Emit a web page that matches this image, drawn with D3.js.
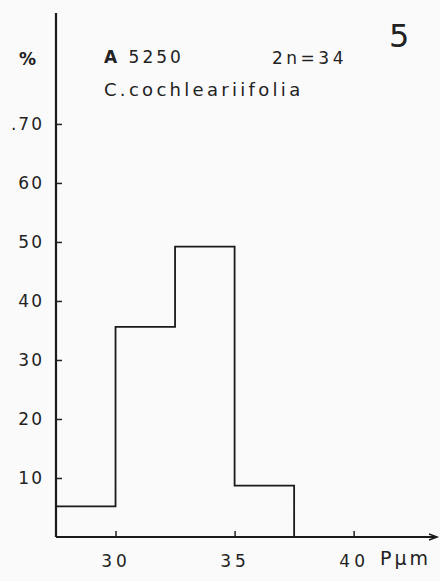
<!DOCTYPE html>
<html>
<head>
<meta charset="utf-8">
<script src="https://cdn.jsdelivr.net/npm/d3@7"></script>
<style>
  body { margin: 0; background: #fafafa; }
  svg { display: block; }
  text { font-family: "DejaVu Sans", sans-serif; fill: #222; }
</style>
</head>
<body>
<svg id="chart" width="440" height="581"></svg>
<script>
// bin grenzen (P um) en percentages
const binStart = [27.5, 30, 32.5, 35];
const binEnd = [30, 32.5, 35, 37.5];
const percent = [5.2, 35.6, 49.2, 8.7];
const yTicks = [10, 20, 30, 40, 50, 60, 70];
const xTicks = [30, 35, 40];

const svg = d3.select("#chart");

const x = d3.scaleLinear().domain([27.5, 43.5]).range([56, 437]);
const y = d3.scaleLinear().domain([0, 88.8]).range([537, 13]);

// y-as
const yAxis = svg
  .append("g")
  .attr("transform", "translate(" + x(27.5) + ",0)")
  .call(
    d3.axisLeft(y)
      .tickValues(yTicks)
      .tickSizeInner(-6)
      .tickSizeOuter(0)
      .tickPadding(12)
      .tickFormat((d) => (d === 70 ? ".70" : d))
  );
yAxis.select(".domain").remove();
yAxis.selectAll(".tick line").attr("stroke", "#222").attr("stroke-width", 1.5);
yAxis.selectAll(".tick text")
  .attr("font-size", 17)
  .attr("letter-spacing", 2)
  .style("font-family", "DejaVu Sans");

svg
  .append("line")
  .attr("x1", x(27.5))
  .attr("x2", x(27.5))
  .attr("y1", y(88.8))
  .attr("y2", y(0))
  .attr("stroke", "#1a1a1a")
  .attr("stroke-width", 2.2);

// x-as
const xAxis = svg
  .append("g")
  .attr("transform", "translate(0," + y(0) + ")")
  .call(
    d3.axisBottom(x)
      .tickValues(xTicks)
      .tickSizeInner(-6)
      .tickSizeOuter(0)
      .tickPadding(18)
  );
xAxis.select(".domain").remove();
xAxis.selectAll(".tick line").attr("stroke", "#222").attr("stroke-width", 1.5);
xAxis.selectAll(".tick text")
  .attr("font-size", 17)
  .attr("letter-spacing", 4)
  .style("font-family", "DejaVu Sans");

svg
  .append("line")
  .attr("x1", x(27.5))
  .attr("x2", x(43.5))
  .attr("y1", y(0))
  .attr("y2", y(0))
  .attr("stroke", "#1a1a1a")
  .attr("stroke-width", 2);

// pijlpunt
svg
  .append("path")
  .attr("d", "M" + (x(43.5) - 8) + "," + (y(0) - 3) + " L" + x(43.5) + "," + y(0) + " L" + (x(43.5) - 8) + "," + (y(0) + 3))
  .attr("fill", "none")
  .attr("stroke", "#1a1a1a")
  .attr("stroke-width", 1.5);

// histogram als trapjeslijn
const steps = [];
percent.forEach((d, i) => {
  steps.push([binStart[i], d]);
  steps.push([binEnd[i], d]);
});
steps.push([binEnd[binEnd.length - 1], 0]);

const line = d3
  .line()
  .x((d) => x(d[0]))
  .y((d) => y(d[1]));

svg
  .append("path")
  .attr("d", line(steps))
  .attr("fill", "none")
  .attr("stroke", "#1a1a1a")
  .attr("stroke-width", 1.8);

// teksten
svg.append("text").attr("x", 380).attr("y", 565).attr("font-size", 19).attr("letter-spacing", 3).text("Pμm");
svg.append("text").attr("x", 19).attr("y", 65).attr("font-size", 17).attr("font-weight", "bold").text("%");
const code = svg.append("text").attr("x", 104).attr("y", 63).attr("font-size", 17).attr("letter-spacing", 3);
code.append("tspan").attr("font-weight", "bold").text("A");
code.append("tspan").text(" 5250");
svg.append("text").attr("x", 272).attr("y", 64).attr("font-size", 17).attr("letter-spacing", 3.5).text("2n=34");
svg.append("text").attr("x", 104).attr("y", 96).attr("font-size", 18).attr("letter-spacing", 3.3).text("C.cochleariifolia");
svg.append("text").attr("x", 389).attr("y", 47).attr("font-size", 32).text("5");
</script>
</body>
</html>
